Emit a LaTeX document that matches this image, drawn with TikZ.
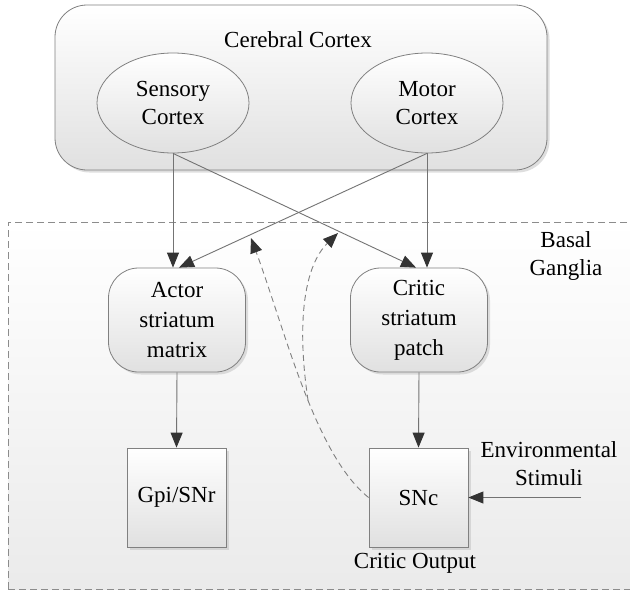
\documentclass[tikz,border=0pt]{standalone}
\usepackage{fontspec}
\setmainfont{Liberation Serif}
\usetikzlibrary{shapes.geometric,arrows.meta,shadows}
\begin{document}
\begin{tikzpicture}[x=1pt,y=-1pt,
  font=\fontsize{23}{28}\selectfont,
  tipstyle/.style={-{Triangle[length=15pt,width=12pt,color=black!80]}},
  conn/.style={draw=black!55, line width=0.9pt, tipstyle},
  dsh/.style={draw=black!50, line width=0.9pt, dash pattern=on 6pt off 4pt, tipstyle},
  shd/.style={drop shadow={shadow xshift=2.5pt,shadow yshift=-2.5pt,fill=black!25}},
  grad/.style={top color=white, bottom color=black!12},
  ell/.style={ellipse, draw=black!50, line width=0.8pt, grad, minimum width=152pt, minimum height=100pt, inner sep=0pt, align=center},
  rbox/.style={rectangle, rounded corners=30pt, draw=black!50, line width=0.8pt, grad, shd, minimum width=137pt, minimum height=104pt, inner sep=0pt, align=center, font=\fontsize{23}{30}\selectfont},
  sbox/.style={rectangle, draw=black!50, line width=0.8pt, grad, shd, minimum width=99pt, minimum height=99pt, inner sep=0pt, align=center},
  lbl/.style={inner sep=0pt, align=center}
]
\useasboundingbox (0,0) rectangle (630,592);
\clip (0,0) rectangle (630,592);
\fill[white] (0,0) rectangle (630,592);

% containers
\node[rectangle, draw=black!45, line width=0.8pt, dash pattern=on 7pt off 4pt,
      top color=white, bottom color=black!8, minimum width=632pt, minimum height=367pt, inner sep=0pt]
      (bg) at (324,405.5) {};
\node[rectangle, rounded corners=32pt, draw=black!50, line width=0.8pt, grad, shd,
      minimum width=492pt, minimum height=165pt, inner sep=0pt] (cc) at (301,87.5) {};
\node[lbl] (cctext) at (298,40) {Cerebral Cortex};
\node[lbl] (bgtext) at (566,256) {Basal\\Ganglia};

% cortex areas
\node[ell] (sens) at (173,103) {Sensory\\Cortex};
\node[ell] (mot) at (427,103) {Motor\\Cortex};

% basal ganglia parts
\node[rbox] (actor) at (177,320) {Actor\\striatum\\matrix};
\node[rbox] (critic) at (419,320) {Critic\\striatum\\patch};
\node[sbox] (gpi) at (176.5,497.5) {Gpi/SNr};
\node[sbox] (snc) at (418.5,497.5) {SNc};
\node[lbl] (env) at (549,464) {Environmental\\Stimuli};
\node[lbl] (cout) at (415,563) {Critic Output};
\coordinate (envs) at (581,497.5);

% connectors
\draw[conn] (sens.south) -- (sens.south |- actor.north);
\draw[conn] (sens.south) -- ([xshift=-3pt]critic.north);
\draw[conn] (mot.south) -- ([xshift=2pt]actor.north);
\draw[conn] (mot.south) -- (mot.south |- critic.north);
\draw[conn] (actor.south) -- (gpi.north);
\draw[conn] (critic.south) -- (snc.north);
\draw[conn] (envs) -- (snc.east);

% dopamine feedback
\draw[dsh] (snc.west) .. controls (315,455) and (285,330) .. (251,238)
      coordinate[pos=0.45] (split);
\draw[dsh] (split) .. controls (296,320) and (305,265) .. (338,233);
\end{tikzpicture}
\end{document}
